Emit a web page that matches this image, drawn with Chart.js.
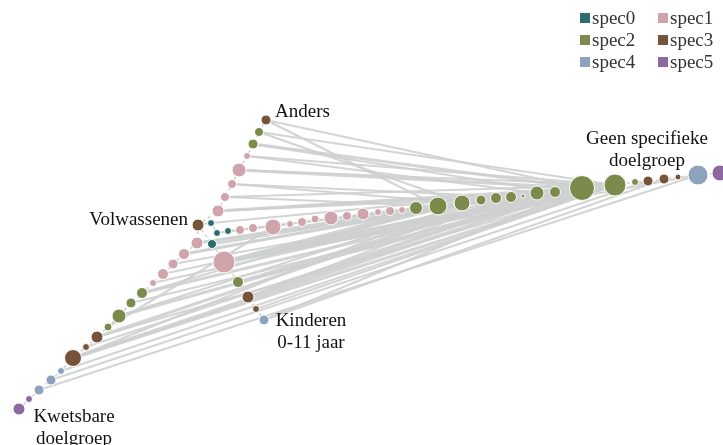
<!DOCTYPE html>
<html><head><meta charset="utf-8">
<script src="https://cdn.jsdelivr.net/npm/chart.js@4/dist/chart.umd.min.js"></script>
<style>html,body{margin:0;padding:0;background:#fff}#wrap{width:723px;height:445px;position:relative}</style>
</head><body><div id="wrap"><canvas id="c"></canvas></div>
<script>
// ---- categories ----
const specNames = ['spec0','spec1','spec2','spec3','spec4','spec5'];
const specColors = ['#2b6e6b','#cfa4ad','#7b8b4b','#76543a','#8da2bd','#8c69a1'];

// ---- nodes (data coordinates, size value, category index) ----
const nodeX = [198,211,217,228,212, 218,225,232,239,247,253,259,266,
  240,253,273,290,302,315,331,347,363,378,390,402,416,438,462,481,496,511,523,537,555,582,615,635,648,664,678,698,720,
  224,238,248,256,264,
  197,184,173,163,153,142,131,119,108,97,86,73,61,51,39,29,19];
const nodeY = [225,223,233,231,244, 211,197,184,170,156,144,132,120,
  230,228,227,224,222,219,218,216,214,212,211,210,208,206,203,200,198,197,196,193,192,188,185,182,181,179,177,175,173,
  262,282,297,309,320,
  243,254,264,274,283,293,303,316,327,337,347,358,371,380,390,399,409];
const nodeSize = [6,3.5,3.5,3.5,4.5, 6,4.5,4.5,7,3.5,5,4.5,5,
  4.5,4.5,8,3.5,4.5,4,7,4.5,6,3.5,4.5,3.5,6.5,9,8,5,5.5,5.5,2,7,5.5,12.5,11,3.5,5,5,3,10,8,
  11,5.5,6,3.5,5,
  6,5.5,5,5.5,3.5,5.5,5,7,4,6,3.5,8.5,3.5,5,5,3.5,6];
const nodeSpec = [3,0,0,0,0, 1,1,1,1,1,2,2,3,
  1,1,1,1,1,1,1,1,1,1,1,1,2,2,2,2,2,2,2,2,2,2,2,2,3,3,3,4,5,
  1,2,3,3,4,
  1,1,1,1,1,2,2,2,2,3,3,3,4,4,4,5,5];

// ---- axes (node chains) ----
const axisAnders = [0,5,6,7,8,9,10,11,12];
const axisGeen = [0,1,2,3,13,14,15,16,17,18,19,20,21,22,23,24,25,26,27,28,29,30,31,32,33,34,35,36,37,38,39,40,41];
const axisKinderen = [0,4,42,43,44,45,46];
const axisKwetsbaar = [0,47,48,49,50,51,52,53,54,55,56,57,58,59,60,61,62,63];

// ---- edges ----
const edgeFrom = [12,12,11,11,10,10,9,9,8,8,7,7,6,6,5,5,5,
  1,3,2,4,
  42,42,42,42,42,43,43,44,44,45,46,46,
  47,47,48,48,49,50,51,52,52,53,54,54,55,56,56,57,58,58,58,59,60,61];
const edgeTo = [26,34,27,35,33,34,32,35,34,35,30,27,35,26,34,33,29,
  34,35,32,28,
  34,35,26,27,40,32,35,33,30,35,34,38,
  34,25,29,27,35,32,33,34,26,35,34,28,15,30,35,33,34,35,27,35,37,40];
const edgeWeight = [1,1,1,1,1,2,1,1,2,1,1,1,1,1,2,1,1,
  1,1,1,2,
  4,3,3,2,1,2,1,2,1,1,1,1,
  2,1,2,1,1,1,1,2,1,1,2,1,1,2,1,1,3,2,1,1,1,1];

// ---- text labels ----
const labelTexts = [['Anders'],['Volwassenen'],['Kinderen','0-11 jaar'],['Geen specifieke','doelgroep'],['Kwetsbare','doelgroep']];
const labelAnchors = [[275,117,'left'],[188,225,'right'],[311,326,'center'],[647,144,'center'],[74,422,'center']];

const pt = i => ({x: nodeX[i], y: nodeY[i]});
const datasets = [];
for (let k = 0; k < edgeFrom.length; k++) {
  datasets.push({type:'line', label:'edge', data:[pt(edgeFrom[k]), pt(edgeTo[k])],
    borderColor:'rgba(206,208,208,0.9)', borderWidth: 1.2 + edgeWeight[k]*0.9,
    pointRadius:0, fill:false, tension:0, order:3, clip:false});
}
[axisAnders, axisGeen, axisKinderen, axisKwetsbaar].forEach(ax => {
  datasets.push({type:'line', label:'axis', data: ax.map(pt), borderColor:'#cfd1d1',
    borderWidth:1.5, borderDash:[3,3], pointRadius:0, fill:false, tension:0, order:2, clip:false});
});
specNames.forEach((name, s) => {
  const data = [];
  nodeSpec.forEach((sp, i) => { if (sp === s) data.push({x:nodeX[i], y:nodeY[i], r:nodeSize[i]}); });
  datasets.push({type:'bubble', label:name, data, backgroundColor:specColors[s],
    borderColor:'#ffffff', borderWidth:1, order:1, clip:false});
});

const serif = "'Liberation Serif','Times New Roman',serif";
const textPlugin = {
  id:'texts',
  afterDraw(chart) {
    const ctx = chart.ctx, xs = chart.scales.x, ys = chart.scales.y;
    ctx.save();
    ctx.font = '19px ' + serif;
    ctx.fillStyle = '#111';
    ctx.textBaseline = 'alphabetic';
    labelTexts.forEach((lines, i) => {
      const [ax, ay, al] = labelAnchors[i];
      ctx.textAlign = al;
      lines.forEach((t, j) => ctx.fillText(t, xs.getPixelForValue(ax), ys.getPixelForValue(ay) + j*22));
    });
    // legend
    ctx.textAlign = 'left';
    ctx.textBaseline = 'middle';
    specNames.forEach((name, s) => {
      const col = s % 2, row = Math.floor(s / 2);
      const lx = 580 + col*78, ly = 18 + row*22;
      ctx.fillStyle = specColors[s];
      ctx.fillRect(lx, ly-5, 10, 10);
      ctx.fillStyle = '#333';
      ctx.fillText(name, lx + 12, ly + 1);
    });
    ctx.restore();
  }
};

new Chart(document.getElementById('c'), {
  type:'bubble',
  data:{datasets},
  options:{
    responsive:true, maintainAspectRatio:false, animation:false, events:[],
    layout:{padding:0, autoPadding:false},
    plugins:{legend:{display:false}, tooltip:{enabled:false}},
    scales:{
      x:{type:'linear', min:0, max:723, display:false},
      y:{type:'linear', min:0, max:445, reverse:true, display:false}
    }
  },
  plugins:[textPlugin]
});
</script></body></html>
